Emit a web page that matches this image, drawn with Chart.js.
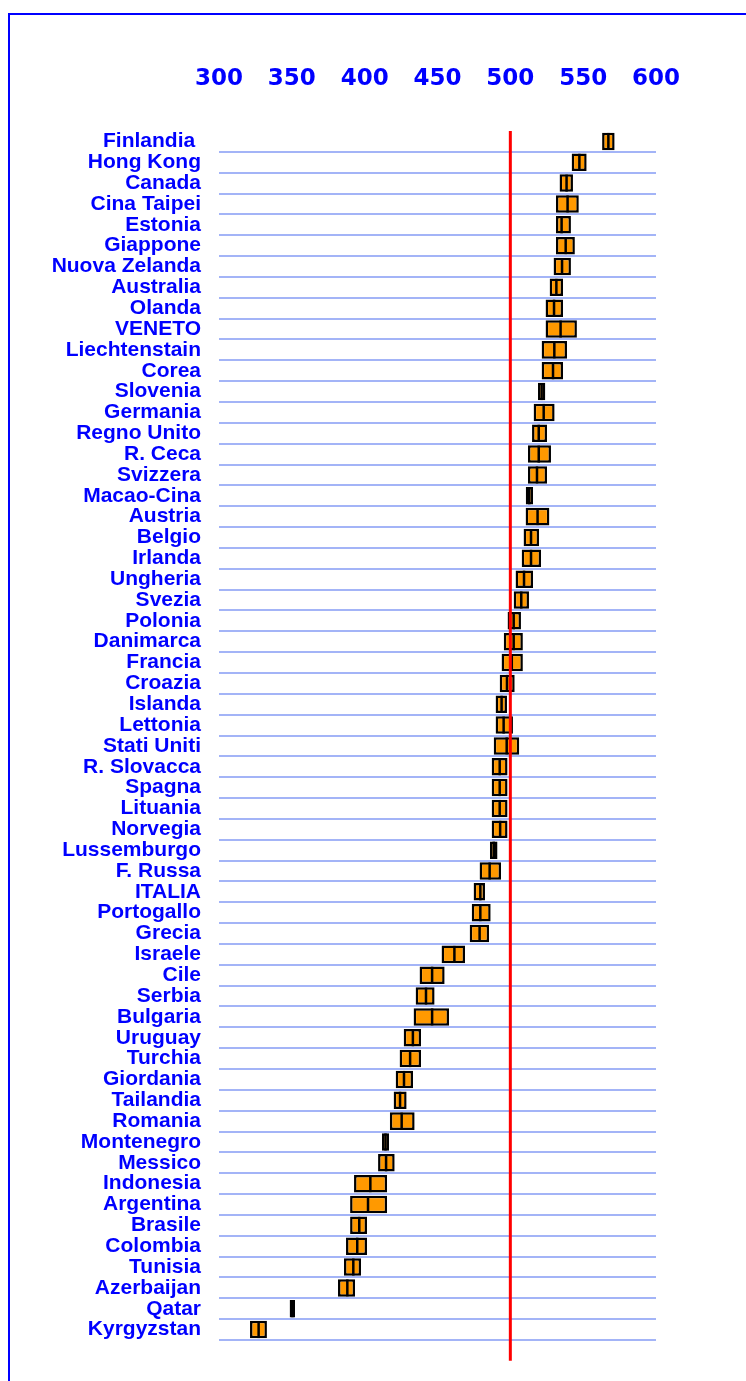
<!DOCTYPE html>
<html>
<head>
<meta charset="utf-8">
<script src="https://cdn.jsdelivr.net/npm/chart.js@4/dist/chart.umd.min.js"></script>
<style>
  html, body { margin: 0; padding: 0; background: #fff; }
  #wrap { position: relative; width: 746px; height: 1381px; overflow: hidden; }
  #frame { position: absolute; left: 8px; top: 13px; width: 800px; height: 1400px;
           border-left: 2px solid #0000ff; border-top: 2px solid #0000ff; }
  canvas { position: absolute; left: 0; top: 0; }
</style>
</head>
<body>
<div id="wrap">
  <div id="frame"></div>
  <canvas id="chart-pisa" width="746" height="1381"></canvas>
</div>
<script>
// paesi, dall'alto verso il basso
const countries = ['Finlandia ', 'Hong Kong', 'Canada', 'Cina Taipei', 'Estonia', 'Giappone', 'Nuova Zelanda',
  'Australia', 'Olanda', 'VENETO', 'Liechtenstain', 'Corea', 'Slovenia', 'Germania', 'Regno Unito', 'R. Ceca',
  'Svizzera', 'Macao-Cina', 'Austria', 'Belgio', 'Irlanda', 'Ungheria', 'Svezia', 'Polonia', 'Danimarca',
  'Francia', 'Croazia', 'Islanda', 'Lettonia', 'Stati Uniti', 'R. Slovacca', 'Spagna', 'Lituania', 'Norvegia',
  'Lussemburgo', 'F. Russa', 'ITALIA', 'Portogallo', 'Grecia', 'Israele', 'Cile', 'Serbia', 'Bulgaria',
  'Uruguay', 'Turchia', 'Giordania', 'Tailandia', 'Romania', 'Montenegro', 'Messico', 'Indonesia',
  'Argentina', 'Brasile', 'Colombia', 'Tunisia', 'Azerbaijan', 'Qatar', 'Kyrgyzstan'];

// estremi dell'intervallo
const low = [563.0, 542.1, 533.8, 531.3, 531.3, 531.3, 529.7, 527.0, 524.2, 524.2, 521.5, 521.5, 519.0, 516.0,
  514.9, 512.1, 512.1, 510.6, 510.5, 509.1, 507.8, 503.6, 502.3, 498.1, 495.5, 494.0, 492.7, 489.9, 489.9,
  488.6, 487.2, 487.2, 487.2, 487.2, 486.0, 478.9, 474.8, 473.5, 472.1, 452.8, 437.7, 435.0, 433.6, 426.8,
  424.0, 421.3, 419.9, 417.3, 411.9, 409.2, 392.7, 390.0, 390.0, 387.2, 385.8, 381.7, 348.5, 321.3];
const high = [571.6, 552.4, 543.0, 547.0, 541.6, 544.3, 541.6, 536.2, 536.2, 545.7, 538.9, 536.2, 524.0, 530.4,
  525.2, 527.9, 525.2, 515.6, 526.8, 519.7, 521.1, 515.6, 512.8, 507.3, 508.6, 508.6, 503.0, 497.7, 501.8,
  506.1, 498.1, 498.1, 498.1, 498.1, 491.2, 493.6, 482.6, 486.5, 485.4, 468.9, 454.9, 448.0, 457.9, 438.7,
  438.7, 433.2, 428.8, 434.3, 416.7, 420.6, 415.4, 415.4, 401.6, 401.6, 397.5, 393.4, 352.2, 332.9];
// media (linea nera dentro il box)
const mean = [567.3, 547.4, 538.6, 539.3, 535.2, 538.0, 535.5, 531.6, 530.0, 534.5, 530.2, 529.3, 521.5, 522.9,
  519.5, 519.5, 518.3, 513.0, 518.7, 514.2, 514.2, 509.4, 507.5, 502.3, 502.3, 501.0, 497.7, 494.0, 495.4,
  497.5, 492.7, 492.7, 492.7, 493.0, 488.6, 485.8, 479.4, 479.4, 478.9, 461.6, 446.3, 442.1, 446.3, 433.1,
  431.2, 427.0, 424.3, 425.4, 414.3, 414.7, 403.9, 402.3, 396.3, 394.9, 392.2, 388.1, 350.4, 327.2];

const xTicks = [300, 350, 400, 450, 500, 550, 600];
const REF_VALUE = 500;

// linea rossa di riferimento (media OCSE)
const refLine = {
  id: 'refLine',
  afterDatasetsDraw(chart) {
    const { ctx, chartArea, scales } = chart;
    const x = scales.x.getPixelForValue(REF_VALUE);
    const row = (chartArea.bottom - chartArea.top) / countries.length;
    ctx.save();
    ctx.strokeStyle = '#ff0000';
    ctx.lineWidth = 3;
    ctx.beginPath();
    ctx.moveTo(x, chartArea.top);
    ctx.lineTo(x, chartArea.bottom + row);
    ctx.stroke();
    ctx.restore();
  }
};

new Chart(document.getElementById('chart-pisa'), {
  type: 'bar',
  data: {
    labels: countries,
    datasets: [
      {
        type: 'line',
        data: mean,
        indexAxis: 'y',
        showLine: false,
        pointStyle: 'line',
        rotation: 90,
        pointRadius: 8.5,
        pointBorderWidth: 2.5,
        pointBorderColor: '#000',
        borderColor: '#000',
        order: 0
      },
      {
        data: low.map((l, i) => [l, high[i]]),
        backgroundColor: '#ff9900',
        borderColor: '#000',
        borderWidth: 2.5,
        borderSkipped: false,
        barPercentage: 0.84,
        categoryPercentage: 1,
        order: 1
      }
    ]
  },
  options: {
    indexAxis: 'y',
    responsive: false,
    animation: false,
    events: [],
    layout: { padding: { top: 0, right: 90, bottom: 41, left: 0 } },
    plugins: { legend: { display: false }, tooltip: { enabled: false } },
    scales: {
      x: {
        type: 'linear',
        position: 'top',
        min: 300, max: 600,
        afterBuildTicks: s => { s.ticks = xTicks.map(v => ({ value: v })); },
        afterFit: s => { s.height = 131; },
        grid: { display: false, drawTicks: false },
        border: { display: false },
        ticks: {
          padding: 38,
          color: '#0000ff',
          font: { family: 'DejaVu Sans', size: 23, weight: 'bold' }
        }
      },
      y: {
        type: 'category',
        afterFit: s => { s.width = 219; },
        grid: {
          offset: true,
          drawTicks: false,
          lineWidth: 2,
          color: c => c.index === 0 ? 'rgba(0,0,0,0)' : '#a3b4f7'
        },
        border: { display: false },
        ticks: {
          padding: 18,
          autoSkip: false,
          color: '#0000ff',
          font: { family: 'Liberation Sans', size: 21, weight: 'bold' }
        }
      }
    }
  },
  plugins: [refLine]
});
</script>
</body>
</html>
